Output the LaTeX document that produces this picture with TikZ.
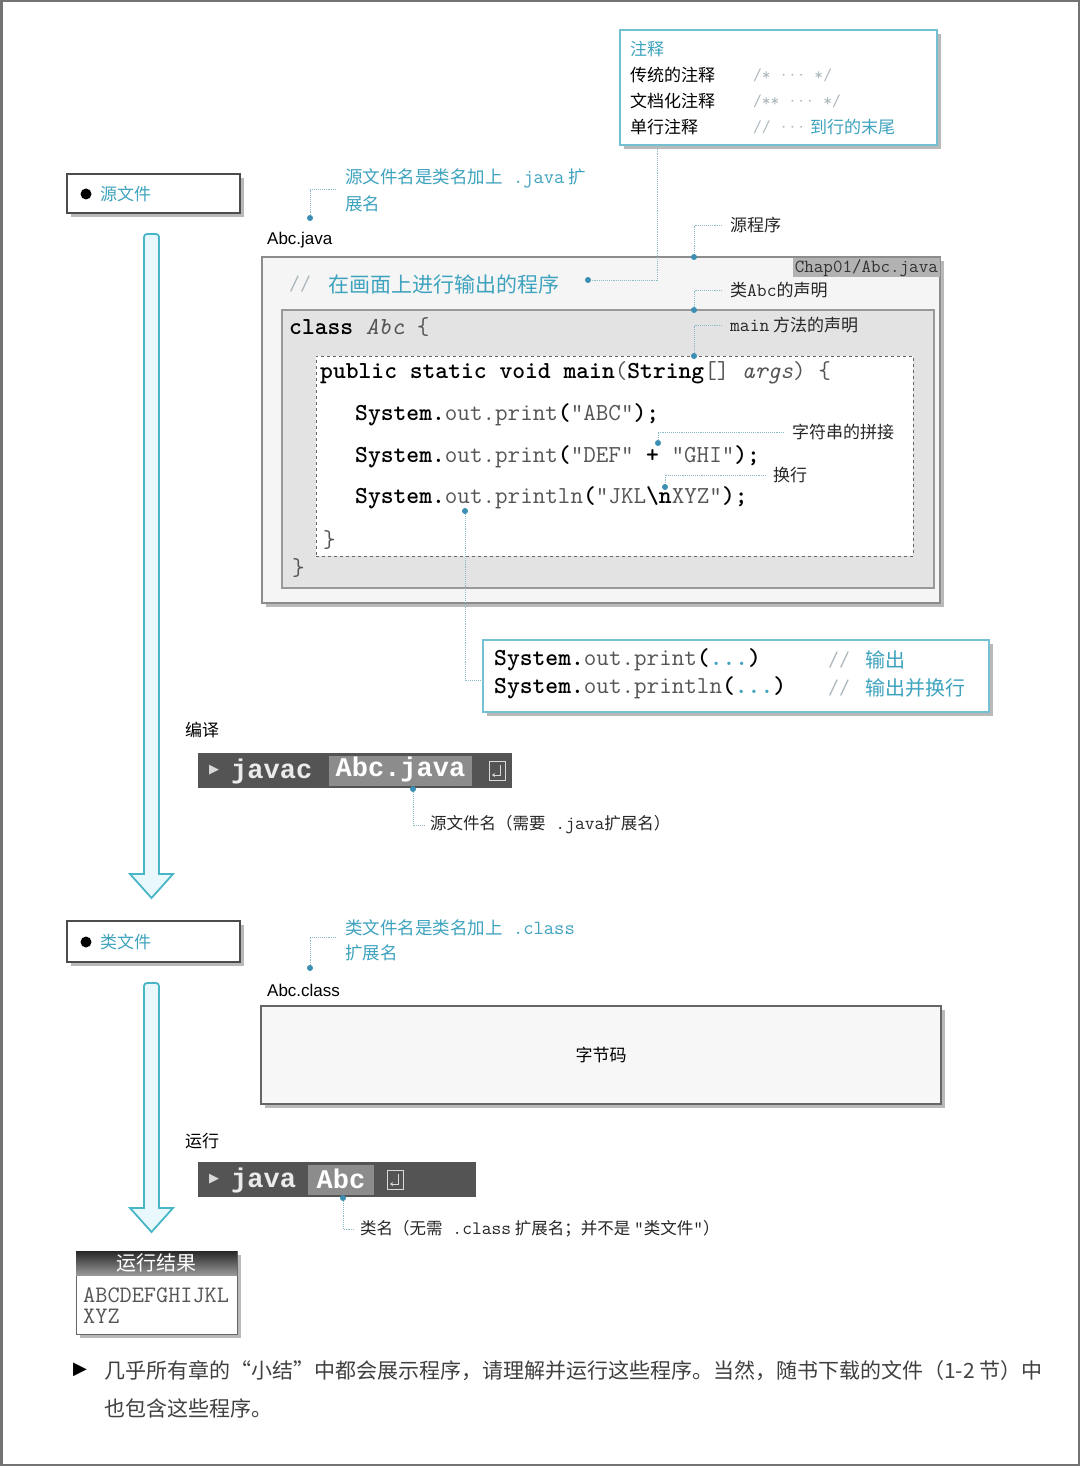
\documentclass[tikz,border=0pt]{standalone}
\usepackage{fontspec}
\setmainfont{Liberation Sans}
\newfontfamily\cjkf{Noto Sans CJK SC}
\newcommand\cmono{\ttfamily}
\newfontfamily\cmdf{Liberation Mono}
\newfontfamily\symf{DejaVu Sans}
\usetikzlibrary{shadows,arrows.meta}
\definecolor{tealtx}{HTML}{3EA3BE}
\definecolor{tealbd}{HTML}{72C0D2}
\definecolor{dotc}{HTML}{3A8FB2}
\definecolor{connc}{HTML}{8CBCC8}
\definecolor{codegray}{HTML}{555555}
\definecolor{cmtgray}{HTML}{A8B4BA}
\definecolor{arrowfill}{HTML}{E8F8FC}
\definecolor{arrowbd}{HTML}{48B6C6}
\newcommand\fsz[1]{\fontsize{#1}{#1}\selectfont}
\newcommand\kw[1]{{\bfseries\color{black}#1}}
\begin{document}
\begin{tikzpicture}[x=1pt,y=-1pt,
  box/.style={anchor=north west, inner sep=0pt, outer sep=0pt},
  shad/.style={drop shadow={shadow xshift=4pt, shadow yshift=-4pt, fill=black!50, opacity=.55}},
  lbl/.style={anchor=west, inner sep=0pt, text=black!85, font=\cjkf\fsz{17}},
  tlbl/.style={lbl, text=tealtx},
  conn/.style={draw=connc, line width=0.9pt, densely dotted},
  pin/.style={circle, fill=dotc, inner sep=0pt, minimum size=6pt},
  code/.style={anchor=west, inner sep=0pt, text=codegray, font=\cmono\fsz{24.4}},
  cmt/.style={anchor=west, inner sep=0pt, text=cmtgray, font=\cmono\fsz{17}},
  bigarrow/.style={draw=arrowbd, fill=arrowfill, line width=1.8pt, line join=miter},
  cmdbar/.style={box, fill=black!67, minimum height=35pt},
  cmdhl/.style={box, fill=black!45, minimum height=30pt},
  cmdtx/.style={anchor=west, inner sep=0pt, text=black!8, font=\cmdf\bfseries\fsz{27}},
  cmdtri/.style={anchor=west, inner sep=0pt, text=black!15, font=\symf\fsz{13}},
  retkey/.style={draw=black!15, line width=1pt, minimum width=16pt, minimum height=19pt, inner sep=0pt},
  filebox/.style={box, shad, draw=black!70, line width=1.2pt, fill=white, minimum width=173pt},
  bullet/.style={circle, fill=black, inner sep=0pt, minimum size=11pt},
]
\fill[white] (0,0) rectangle (1080,1466);
\useasboundingbox (0,0) rectangle (1080,1466);
\draw[black!55, line width=2.5pt] (1.25,1.25) rectangle (1078.75,1464.75);

% ---------- comment box
\node[box, shad, draw=tealbd, line width=1.3pt, fill=white, minimum width=317pt, minimum height=115pt] (cbox) at (620,30) {};
\node[tlbl] (ct) at (630,49) {注释};
\node[lbl, text=black] (c1) at (630,75) {传统的注释};
\node[lbl, text=black] (c2) at (630,101) {文档化注释};
\node[lbl, text=black] (c3) at (630,127) {单行注释};
\node[cmt] (c1r) at (753,75) {/* ··· */};
\node[cmt] (c2r) at (753,101) {/** ··· */};
\node[cmt] (c3r) at (753,127) {// ···};
\node[tlbl, font=\cjkf\fsz{17}] (c3t) at (810,127) {到行的末尾};

% ---------- source file heading
\node[filebox, minimum height=39pt] (srcbox) at (67,174) {};
\node[bullet] (srcdot) at (86,194) {};
\node[tlbl] (srctx) at (100,194) {源文件};

\node[tlbl, font=\cjkf\fsz{17.5}] (n1a) at (345,178) {源文件名是类名加上{\cmono\fsz{20}\ .java}\ 扩};
\node[tlbl, font=\cjkf\fsz{17.5}] (n1b) at (345,204) {展名};
\node[anchor=west, inner sep=0pt, font=\fsz{17}] (fn1) at (267,240) {Abc.java};

% ---------- source program box
\node[box, shad, draw=black!45, line width=1.5pt, fill=black!4, minimum width=678pt, minimum height=346pt] (srcprog) at (262,257) {};
\node[anchor=north east, inner xsep=2pt, inner ysep=0pt, minimum height=19pt, fill=black!30, text=black!80, font=\cmono\fsz{18.5}] (tab) at (940,258) {Chap01/Abc.java};
\node[anchor=west, inner sep=0pt, text=cmtgray, font=\cmono\fsz{21}] (cmsl) at (289,284) {//};
\node[tlbl, font=\cjkf\fsz{21}] (cmtx) at (328,284) {在画面上进行输出的程序};

\node[box, draw=black!40, line width=1.2pt, fill=black!11, minimum width=652pt, minimum height=278pt] (clsbox) at (282,310) {};
\node[box, draw=black!60, dashed, line width=1pt, fill=white, minimum width=597pt, minimum height=200pt] (mbox) at (316,356) {};

\node[code] (l0) at (289,327) {\kw{class} \textit{Abc} \{};
\node[code] (l1) at (320,373) {\kw{public static void main}(\kw{String}[] \textit{args}) \{};
\node[code] (l2) at (355,415) {\kw{System.}out.print\kw{(}"ABC"\kw{);}};
\node[code] (l3) at (355,457) {\kw{System.}out.print\kw{(}"DEF" \kw{+} "GHI"\kw{);}};
\node[code] (l4) at (355,498) {\kw{System.}out.println\kw{(}"JKL\kw{\textbackslash n}XYZ"\kw{);}};
\node[code] (l5) at (323,540) {\}};
\node[code] (l6) at (292,568) {\}};

% ---------- right-hand labels
\node[lbl] (s1) at (730,225) {源程序};
\node[lbl] (s2) at (730,290) {类{\cmono\fsz{19}Abc}的声明};
\node[lbl] (s3) at (730,325) {{\cmono\fsz{19}main} 方法的声明};
\node[lbl] (s4) at (792,432) {字符串的拼接};
\node[lbl] (s5) at (773,475) {换行};

% ---------- output method box
\node[box, shad, draw=tealbd, line width=1.3pt, fill=white, minimum width=506pt, minimum height=72pt] (obox) at (483,640) {};
\node[code] (o1) at (494,660) {\kw{System.}out.print\kw{(}{\bfseries\color{tealtx}...}\kw{)}};
\node[code] (o2) at (494,688) {\kw{System.}out.println\kw{(}{\bfseries\color{tealtx}...}\kw{)}};
\node[anchor=west, inner sep=0pt, text=cmtgray, font=\cmono\fsz{21}] (o1c) at (828,660) {//};
\node[tlbl, font=\cjkf\fsz{20}] (o1t) at (865,660) {输出};
\node[anchor=west, inner sep=0pt, text=cmtgray, font=\cmono\fsz{21}] (o2c) at (828,688) {//};
\node[tlbl, font=\cjkf\fsz{20}] (o2t) at (865,688) {输出并换行};

% ---------- connectors (top part)
\coordinate (k0) at (657,145);
\node[pin] (p0) at (588,280) {};
\draw[conn] (k0) |- (p0);
\coordinate (k1) at (336,189);
\node[pin] (p1) at (310,218) {};
\draw[conn] (k1) -| (p1);
\coordinate (ks1) at (722,225);
\node[pin] (ps1) at (694,257) {};
\draw[conn] (ks1) -| (ps1);
\coordinate (ks2) at (722,290);
\node[pin] (ps2) at (694,310) {};
\draw[conn] (ks2) -| (ps2);
\coordinate (ks3) at (722,325);
\node[pin] (ps3) at (694,356) {};
\draw[conn] (ks3) -| (ps3);
\coordinate (ks4) at (784,432);
\node[pin] (ps4) at (658,443) {};
\draw[conn] (ks4) -| (ps4);
\coordinate (ks5) at (766,475);
\node[pin] (ps5) at (665,487) {};
\draw[conn] (ks5) -| (ps5);
\node[pin] (ps6) at (465,511) {};
\coordinate (ks6) at (483,680);
\draw[conn] (ps6) |- (ks6);

% ---------- compile
\node[lbl, text=black] (bianyi) at (185,730) {编译};
\node[cmdbar, minimum width=314pt] (cmd1) at (198,753) {};
\node[cmdtri] (tri1) at (209,770) {▶};
\node[cmdtx] (jc) at (231,772) {javac};
\node[cmdhl, minimum width=143pt] (hl1) at (329,756) {};
\node[inner sep=0pt, text=white, font=\cmdf\bfseries\fsz{27}] (abcj) at ([yshift=1pt]hl1.center) {Abc.java};
\node[retkey] (ret1) at (497,771) {};
\draw[black!15, line width=1pt, -{Stealth[length=3pt,width=4pt]}] (ret1.center) ++(3,-6) -- ++(0,10) -- ++(-8,0);
\node[pin] (pc1) at (413,789) {};
\coordinate (kc1) at (425,825);
\draw[conn] (pc1) |- (kc1);
\node[lbl, font=\cjkf\fsz{16.5}] (lc1) at (430,825) {源文件名（需要{\cmono\fsz{19}\ .java}扩展名）};

% ---------- big arrows
\draw[bigarrow] (144,240) [rounded corners=3pt] -- (144,234) -- (159,234) -- (159,240) [sharp corners] -- (159,874) -- (173,874) -- (151.5,898) -- (130,874) -- (144,874) -- cycle;
\draw[bigarrow] (144,990) [rounded corners=3pt] -- (144,983) -- (159,983) -- (159,990) [sharp corners] -- (159,1208) -- (173,1208) -- (151.5,1232) -- (130,1208) -- (144,1208) -- cycle;

% ---------- class file
\node[filebox, minimum height=41pt] (clsfbox) at (67,921) {};
\node[bullet] (clsdot) at (86,942) {};
\node[tlbl] (clstx) at (100,942) {类文件};
\node[tlbl, font=\cjkf\fsz{17.5}] (n2a) at (345,928) {类文件名是类名加上{\cmono\fsz{20}\ .class}};
\node[tlbl, font=\cjkf\fsz{17.5}] (n2b) at (345,953) {扩展名};
\coordinate (k2) at (336,937);
\node[pin] (p2) at (310,968) {};
\draw[conn] (k2) -| (p2);
\node[anchor=west, inner sep=0pt, font=\fsz{17}] (fn2) at (267,990) {Abc.class};
\node[box, shad, draw=black!60, line width=1.5pt, fill=black!3, minimum width=680pt, minimum height=98pt] (bc) at (261,1006) {};
\node[inner sep=0pt, font=\cjkf\fsz{17}] (bctx) at (bc.center) {字节码};

% ---------- run
\node[lbl, text=black] (yunxing) at (185,1141) {运行};
\node[cmdbar, minimum width=278pt] (cmd2) at (198,1162) {};
\node[cmdtri] (tri2) at (209,1179) {▶};
\node[cmdtx] (jv) at (231,1181) {java};
\node[cmdhl, minimum width=66pt] (hl2) at (308,1165) {};
\node[inner sep=0pt, text=white, font=\cmdf\bfseries\fsz{27}] (abc2) at ([yshift=1pt]hl2.center) {Abc};
\node[retkey] (ret2) at (395,1180) {};
\draw[black!15, line width=1pt, -{Stealth[length=3pt,width=4pt]}] (ret2.center) ++(3,-6) -- ++(0,10) -- ++(-8,0);
\node[pin] (pc2) at (343,1198) {};
\coordinate (kc2) at (355,1229);
\draw[conn] (pc2) |- (kc2);
\node[lbl, font=\cjkf\fsz{16.5}] (lc2) at (360,1229) {类名（无需{\cmono\fsz{19}\ .class}\ 扩展名；并不是\ {\cmono\fsz{19}"}类文件{\cmono\fsz{19}"}）};

% ---------- result box
\node[box, shad, draw=black!60, line width=1pt, fill=white, minimum width=161pt, minimum height=83pt] (res) at (76,1251) {};
\node[box, top color=black!85, bottom color=black!40, minimum width=161pt, minimum height=24pt] (resh) at (76,1251) {};
\node[inner sep=0pt, text=white, font=\cjkf\fsz{20}] (resht) at (resh.center) {运行结果};
\node[code, font=\cmono\fsz{23.6}] (r1) at (83,1295) {ABCDEFGHIJKL};
\node[code, font=\cmono\fsz{23.6}] (r2) at (83,1316) {XYZ};

% ---------- bottom note
\node[anchor=west, inner sep=0pt, font=\symf\fsz{18}, text=black] (btri) at (73,1370) {▶};
\node[anchor=west, inner sep=0pt, text=black!75, font=\cjkf\fsz{21}] (bl1) at (104,1371) {几乎所有章的“小结”中都会展示程序，请理解并运行这些程序。当然，随书下载的文件（1-2 节）中};
\node[anchor=west, inner sep=0pt, text=black!75, font=\cjkf\fsz{21}] (bl2) at (104,1408) {也包含这些程序。};
\end{tikzpicture}
\end{document}
